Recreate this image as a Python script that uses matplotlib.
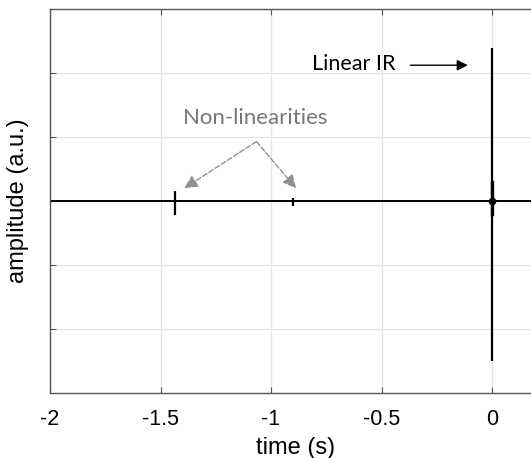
import matplotlib.pyplot as plt

# impulse positions (s) and their positive / negative peaks (a.u.)
spike_t = [-1.433, -0.902, 0.0]
spike_hi = [0.16, 0.05, 2.39]
spike_lo = [-0.22, -0.08, -2.5]

xticks = [-2, -1.5, -1, -0.5, 0]
xlabels = ["-2", "-1.5", "-1", "-0.5", "0"]
yticks = [-2, -1, 0, 1, 2]

fig = plt.figure(figsize=(5.31, 4.58), dpi=100)
ax = fig.add_axes([50 / 531, 1 - 392.7 / 458, 1 - 50 / 531 + 0.02, (392.7 - 9.3) / 458])

ax.plot([-2, 0.25], [0, 0], color="black", lw=1.4, solid_capstyle="butt")
ax.vlines(spike_t, spike_lo, spike_hi, color="black", lw=1.6)
ax.plot([0], [0], "o", color="black", ms=4.5)
ax.plot([0, 0], [-0.2, 0.3], color="black", lw=2.4)

ax.set_xlim(-2, 0.224)
ax.set_ylim(-3, 3)
ax.set_xticks(xticks)
ax.set_xticklabels(xlabels, fontfamily="Liberation Sans", fontsize=15.5)
ax.set_yticks(yticks)
ax.set_yticklabels([])
ax.tick_params(direction="in", length=4, color="#555555", top=True, pad=12)
ax.grid(True, color="#e3e3e3", lw=0.9)
ax.set_axisbelow(True)
for s in ["left", "bottom", "top"]:
    ax.spines[s].set_color("#555555")
    ax.spines[s].set_linewidth(1.0)
ax.spines["right"].set_visible(False)

ax.set_xlabel("time (s)", fontfamily="Liberation Sans", fontsize=17, labelpad=5)
ax.set_ylabel("amplitude (a.u.)", fontfamily="Liberation Sans", fontsize=17, labelpad=3)

ax.text(-0.436, 2.14, "Linear IR", fontfamily="Lato", fontsize=15.5, ha="right", va="center")
ax.annotate("", xy=(-0.11, 2.125), xytext=(-0.37, 2.125),
            arrowprops=dict(arrowstyle="-|>", color="black", lw=1.0, mutation_scale=16,
                            shrinkA=0, shrinkB=0))

ax.text(-1.071, 1.3, "Non-linearities", fontfamily="Lato", fontsize=16, color="#777777",
        ha="center", va="center")
for tx in [-1.393, -0.887]:
    ax.annotate("", xy=(tx, 0.2), xytext=(-1.066, 0.93),
                arrowprops=dict(arrowstyle="-|>", color="#909090", lw=1.0, ls="--",
                                mutation_scale=20, shrinkA=0, shrinkB=0))

fig.savefig("out.png", dpi=100)
